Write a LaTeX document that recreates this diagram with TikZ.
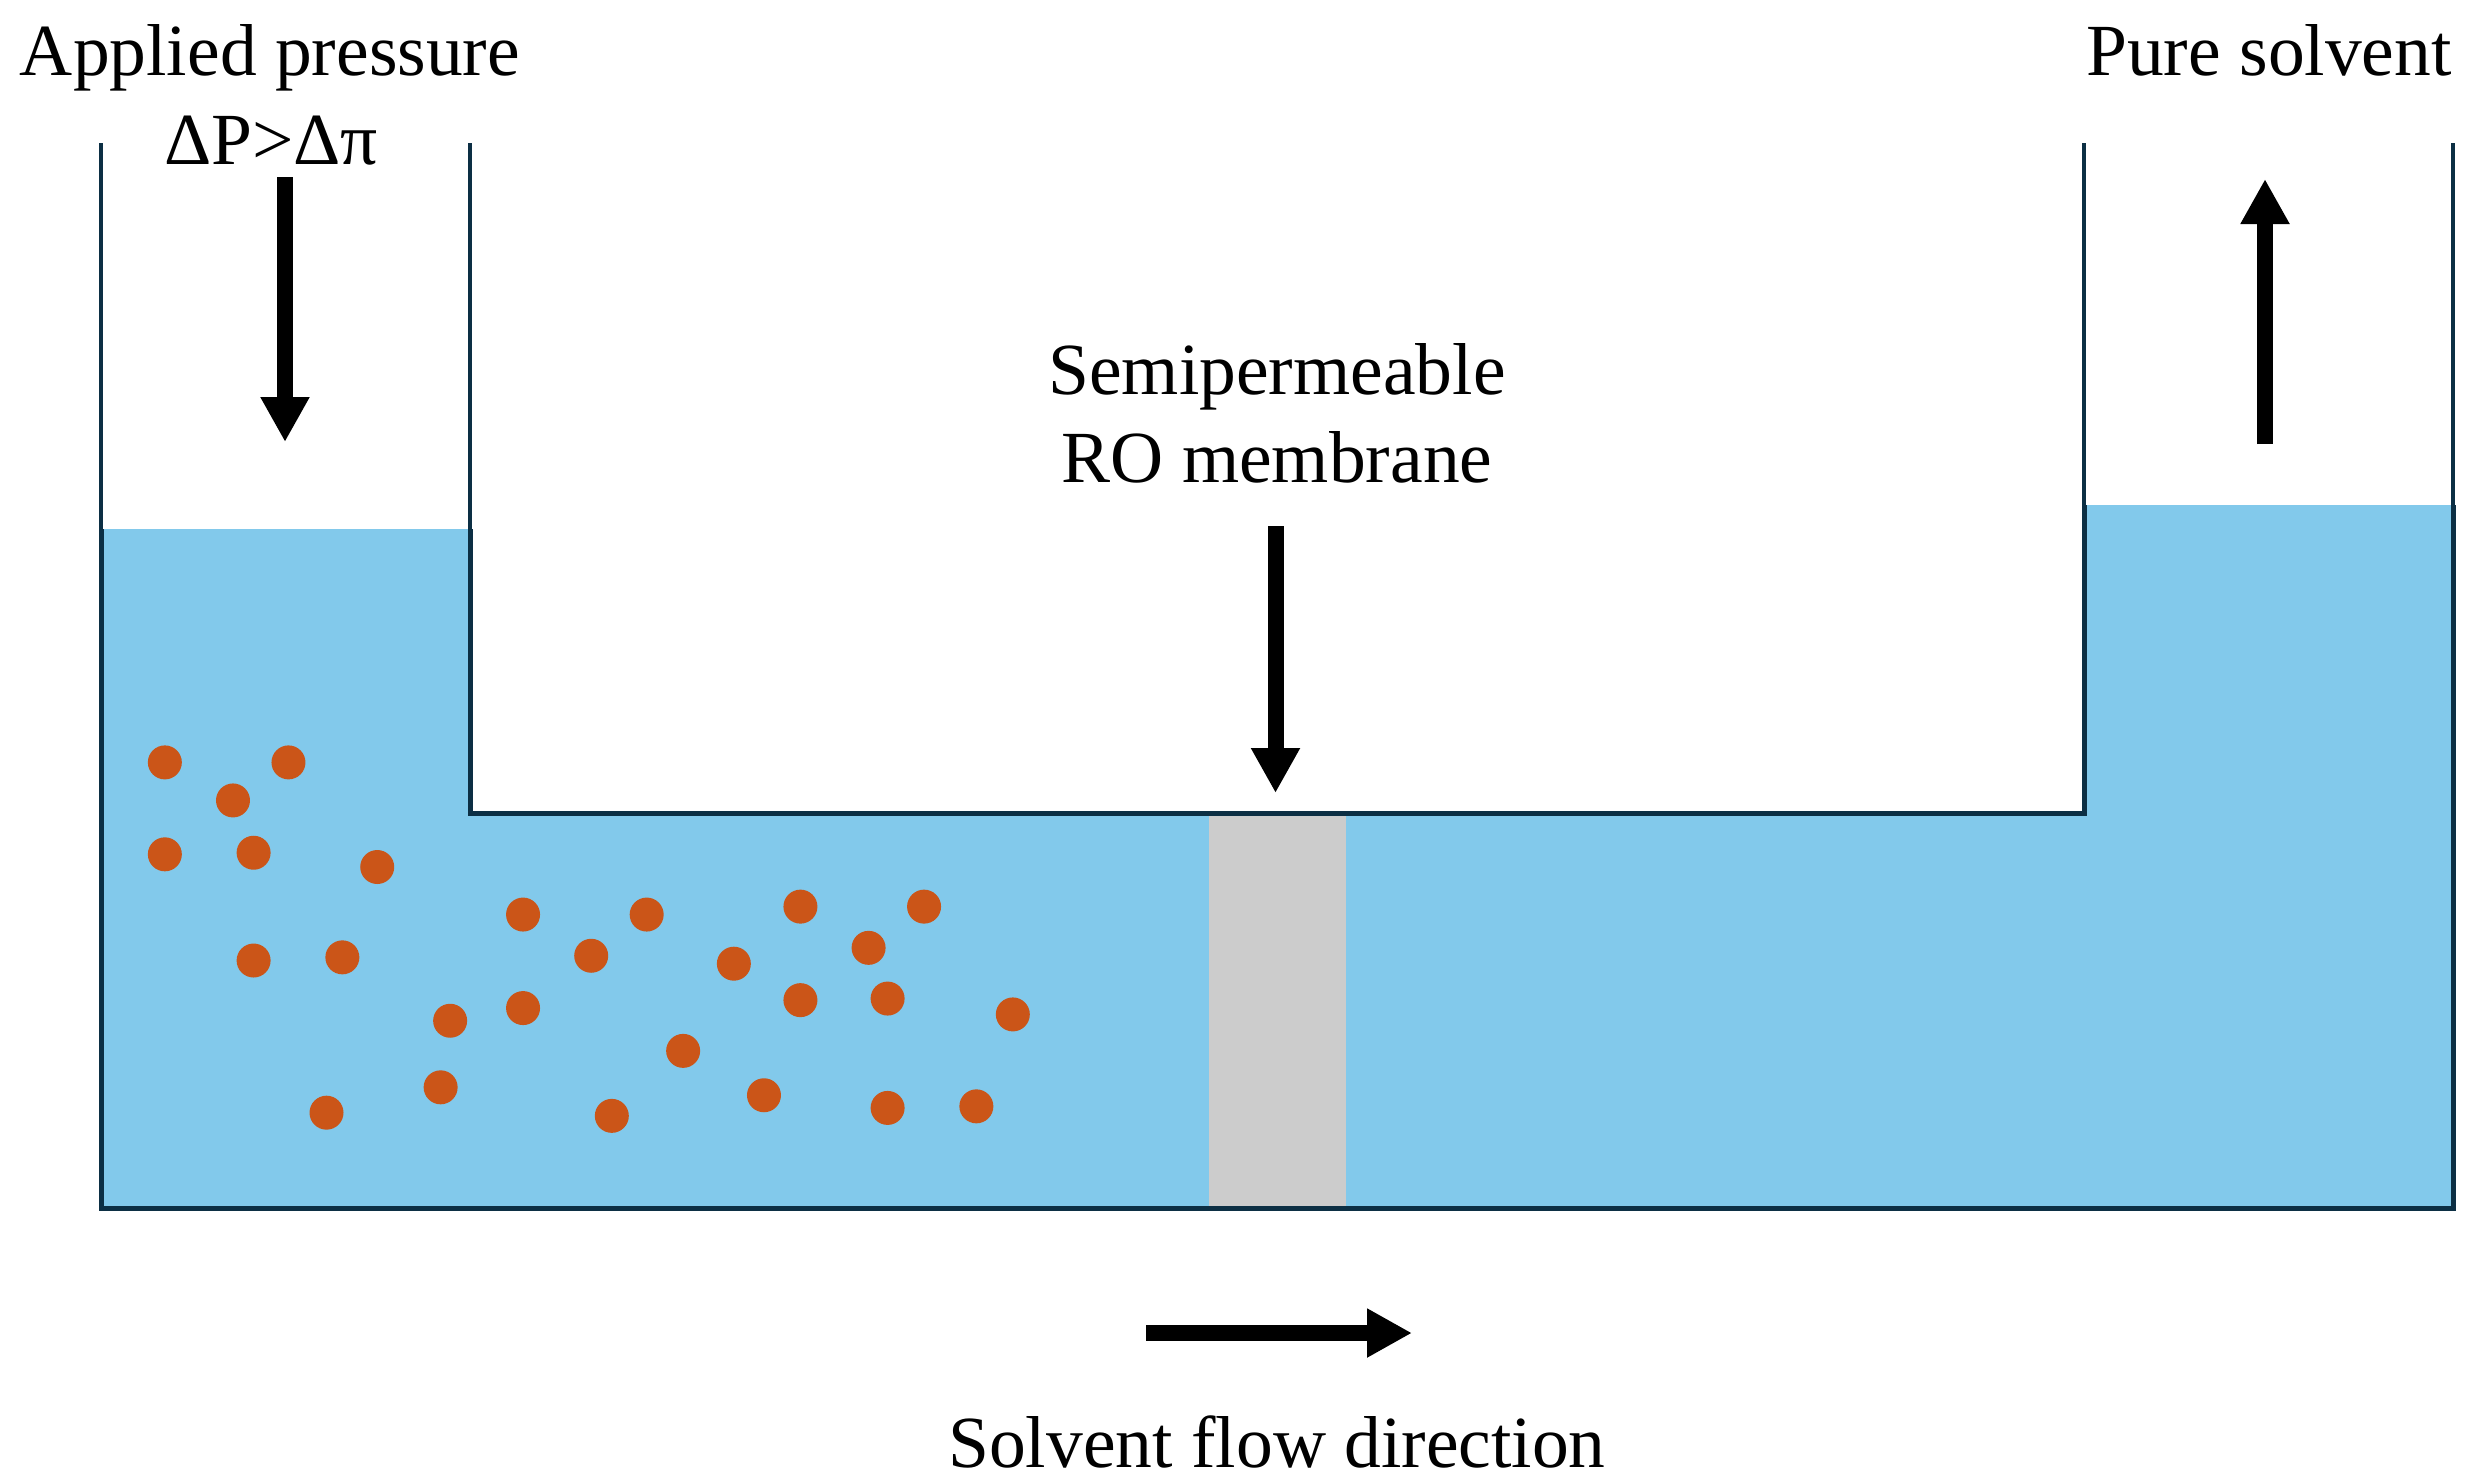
\documentclass[tikz,border=0pt]{standalone}
\usepackage{fontspec}
\setmainfont{Liberation Serif}
\usetikzlibrary{arrows.meta}
\definecolor{water}{HTML}{82C9EB}
\definecolor{wall}{HTML}{0C2F44}
\definecolor{solute}{HTML}{CB5518}
\definecolor{membrane}{HTML}{CCCCCC}
\tikzset{
  label text/.style={inner sep=0pt,anchor=base,font=\fontsize{73.5}{88}\selectfont,text=black},
  flow arrow/.style={line width=16pt,black,-{Triangle[length=45pt,width=46pt]},shorten >=0pt},
  thin wall/.style={line width=3.5pt,wall},
  thick wall/.style={line width=5pt,wall,line join=miter},
}
\begin{document}
\begin{tikzpicture}[x=1pt,y=-1pt]
\useasboundingbox (0,0) rectangle (2485,1481);
% water
\fill[water] (101,529) -- (470,529) -- (470,813) -- (2084,813) -- (2084,505) -- (2453,505) -- (2453,1208) -- (101,1208) -- cycle;
% membrane
\fill[membrane] (1209,813) rectangle (1346,1208);
% walls
\draw[thin wall] (101,143) -- (101,529);
\draw[thin wall] (470,143) -- (470,529);
\draw[thin wall] (2084,143) -- (2084,505);
\draw[thin wall] (2453,143) -- (2453,505);
\draw[thick wall] (101,529) -- (101,1208) -- (2453,1208) -- (2453,505);
\draw[thick wall] (470,529) -- (470,813) -- (2084,813) -- (2084,505);
% solute particles
\foreach \px/\py in {104/481,182/481,147/505,104/539,160/538,238/547,160/606,216/604,
  330/577,408/577,373/603,463/608,505/572,583/572,548/598,505/631,560/630,639/640,
  284/644,330/636,431/663,278/686,206/702,386/704,482/691,560/699,616/698}
  \fill[solute] ({\px*1.585},{\py*1.585}) circle (17);
% labels
\node[label text] (applied) at (270,75) {Applied pressure};
\node[label text] (dp) at (271,164) {ΔP>Δπ};
\node[label text] (pure) at (2269,75) {Pure solvent};
\node[label text] (semi) at (1277,394) {Semipermeable};
\node[label text] (ro) at (1277,482) {RO membrane};
\node[label text] (flow) at (1277,1467) {Solvent flow direction};
% arrows
\coordinate (a1s) at (285,177); \coordinate (a1e) at (285,442);
\coordinate (a2s) at (1275.5,526); \coordinate (a2e) at (1275.5,793);
\coordinate (a3s) at (2265,444); \coordinate (a3e) at (2265,179);
\coordinate (a4s) at (1146,1333); \coordinate (a4e) at (1412,1333);
\draw[flow arrow] (a1s) -- (a1e);
\draw[flow arrow] (a2s) -- (a2e);
\draw[flow arrow] (a3s) -- (a3e);
\draw[flow arrow] (a4s) -- (a4e);
\end{tikzpicture}
\end{document}
